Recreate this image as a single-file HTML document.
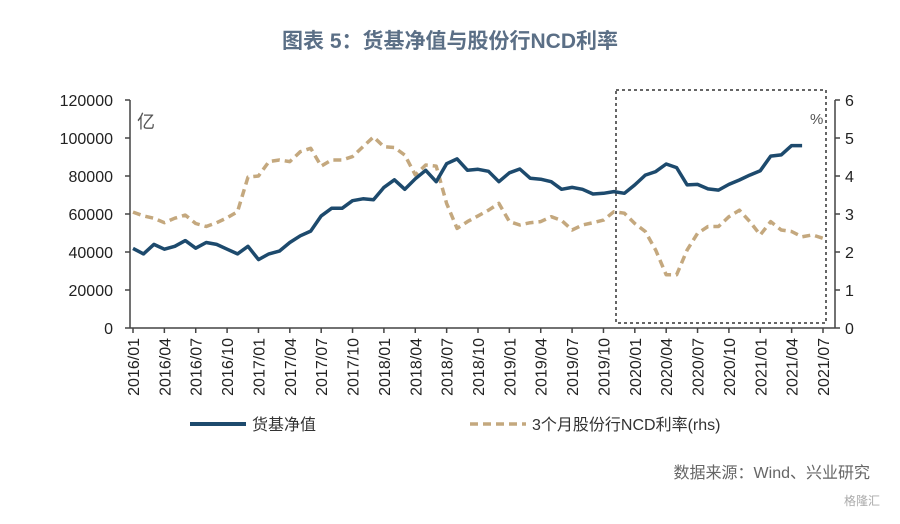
<!DOCTYPE html>
<html><head><meta charset="utf-8"><style>
body{margin:0;background:#fff;}
svg text{font-family:"Liberation Sans","Noto Sans CJK SC",sans-serif;}
</style></head><body>
<svg width="900" height="519" viewBox="0 0 900 519" xmlns="http://www.w3.org/2000/svg">
<text x="450" y="48" text-anchor="middle" font-size="21" font-weight="bold" fill="#5b6f86">图表 5：货基净值与股份行NCD利率</text>
<g id="axes"></g>
<rect x="616" y="90" width="210" height="233" fill="none" stroke="#333" stroke-width="1.5" stroke-dasharray="3,3"/>
<text x="137" y="128" font-size="18" fill="#555">亿</text>
<text x="810" y="124" font-size="15" fill="#555">%</text>
<g id="series"></g>
<g>
<line x1="190" y1="424" x2="246" y2="424" stroke="#1d4a6d" stroke-width="4"/>
<text x="252" y="430" font-size="16" fill="#333">货基净值</text>
<line x1="470" y1="424" x2="526" y2="424" stroke="#c4a87e" stroke-width="3.5" stroke-dasharray="8,5"/>
<text x="532" y="430" font-size="16" fill="#333">3个月股份行NCD利率(rhs)</text>
</g>
<text x="870" y="478" text-anchor="end" font-size="16" fill="#666">数据来源：Wind、兴业研究</text>
<text x="880" y="505" text-anchor="end" font-size="12" fill="#aaa">格隆汇</text>
</svg>
<script>
const leftTicks=[0,20000,40000,60000,80000,100000,120000];
const rightTicks=[0,1,2,3,4,5,6];
const fundValues=[41900,39000,44000,41500,43000,46000,42000,45000,44000,41500,39000,43000,36000,39000,40500,45000,48500,51000,59000,63000,63000,67000,68000,67500,74000,78000,73000,78500,83000,77000,86500,89000,83000,83500,82500,77000,81700,83700,78800,78300,77000,73000,74000,73000,70500,70900,71800,70900,75300,80500,82300,86300,84400,75300,75600,73200,72600,75600,77900,80500,82800,90500,91100,96000,96000,null,null];
const ncdValues=[3.05,2.95,2.89,2.77,2.89,2.97,2.75,2.67,2.77,2.9,3.06,3.97,4.0,4.38,4.42,4.38,4.64,4.73,4.26,4.42,4.42,4.51,4.77,5.03,4.77,4.75,4.55,4.03,4.29,4.26,3.28,2.62,2.8,2.95,3.1,3.28,2.8,2.71,2.77,2.8,2.93,2.83,2.58,2.71,2.77,2.84,3.06,3.02,2.75,2.54,2.05,1.4,1.4,2.05,2.49,2.67,2.67,2.93,3.1,2.8,2.45,2.8,2.58,2.54,2.4,2.45,2.36];
const startYear=2016,startMonth=1;
const NS="http://www.w3.org/2000/svg";
const X0=130,X1=835,Y0=328,Y1=100;
const n=ncdValues.length;
function xs(i){return 133+i*(823-133)/(n-1);}
function yl(v){return Y0-(v/120000)*(Y0-Y1);}
function yr(v){return Y0-(v/6)*(Y0-Y1);}
function mk(tag,attrs,parent){const e=document.createElementNS(NS,tag);for(const k in attrs)e.setAttribute(k,attrs[k]);parent.appendChild(e);return e;}
const axes=document.getElementById('axes');
let e=mk('line',{x1:X0,y1:Y1,x2:X0,y2:Y0,stroke:'#444','stroke-width':1.5},axes);


e=mk('line',{x1:X1,y1:Y1,x2:X1,y2:Y0,stroke:'#444','stroke-width':1.5},axes);


e=mk('line',{x1:X0,y1:Y0,x2:X1,y2:Y0,stroke:'#444','stroke-width':1.5},axes);


leftTicks.forEach(v=>{const y=yl(v);
 const t=mk('line',{x1:X0-5,y1:y,x2:X0,y2:y,stroke:'#444','stroke-width':1.5},axes);
 
 
 const l=mk('text',{x:113,y:y+6,'text-anchor':'end','font-size':16,fill:'#222'},axes);l.textContent=v;
 
 });
rightTicks.forEach(v=>{const y=yr(v);
 const t=mk('line',{x1:X1,y1:y,x2:X1+5,y2:y,stroke:'#444','stroke-width':1.5},axes);
 
 
 const l=mk('text',{x:845,y:y+6,'font-size':16,fill:'#222'},axes);l.textContent=v;
 
 });
for(let i=0;i<n;i+=3){const x=xs(i);
 const t=mk('line',{x1:x,y1:Y0,x2:x,y2:Y0+5,stroke:'#444','stroke-width':1.5},axes);
 
 
 const m=startMonth-1+i;const lab=(startYear+Math.floor(m/12))+'/'+String(m%12+1).padStart(2,'0');
 const l=mk('text',{x:0,y:0,'text-anchor':'end','font-size':16,fill:'#222',transform:`translate(${x+6},${Y0+10}) rotate(-90)`},axes);l.textContent=lab;
 
 }
const s=document.getElementById('series');
function path(vals,yf){let d='',pen=false;vals.forEach((v,i)=>{if(v==null){pen=false;return;}d+=(pen?'L':'M')+xs(i).toFixed(1)+','+yf(v).toFixed(1);pen=true;});return d;}
const pn=mk('path',{d:path(ncdValues,yr),fill:'none',stroke:'#c4a87e','stroke-width':3.5,'stroke-dasharray':'8,5','stroke-linejoin':'round'},s);


const pf=mk('path',{d:path(fundValues,yl),fill:'none',stroke:'#1d4a6d','stroke-width':3.5,'stroke-linejoin':'round'},s);


</script>
</body></html>
